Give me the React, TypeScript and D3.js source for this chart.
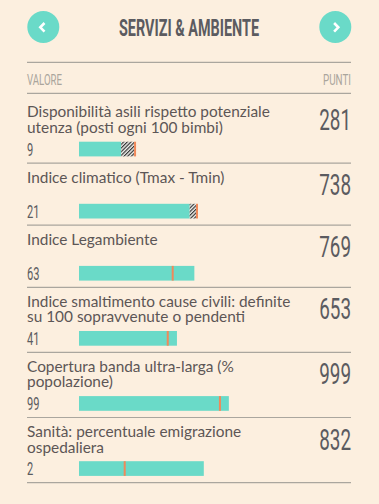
import React from "react";
import * as d3 from "d3";

const title = "SERVIZI & AMBIENTE";
const headerLeft = "VALORE";
const headerRight = "PUNTI";
const labels: string[][] = [
  ["Disponibilità asili rispetto potenziale", "utenza (posti ogni 100 bimbi)"],
  ["Indice climatico (Tmax - Tmin)"],
  ["Indice Legambiente"],
  ["Indice smaltimento cause civili: definite", "su 100 sopravvenute o pendenti"],
  ["Copertura banda ultra-larga (%", "popolazione)"],
  ["Sanità: percentuale emigrazione", "ospedaliera"],
];
const values = ["9", "21", "63", "41", "99", "2"];
const points = [281, 738, 769, 653, 999, 832];
const averages = [367, 780, 618, 585, 933, 298];

const W = 379;
const H = 504;
const BG = "#fcefdf";
const TEAL = "#6adac8";
const ORANGE = "#f0895a";
const DARK = "#5b5b60";
const LABEL = "#5c5656";
const LIGHT = "#aaa59c";
const RULE = "#aaa69e";
const LEFT = 27;
const RIGHT = 351;
const COND = "Roboto, sans-serif";

export default function App() {
  const x = d3.scaleLinear().domain([0, 1000]).range([79, 229]);
  const barH = 14.7;

  const rows: any[] = [];
  let sep = 93;
  labels.forEach((lines, i) => {
    const extra = i === 0 ? 5 : 0;
    const top = sep + extra;
    const barTop = top + (lines.length > 1 ? 43.7 : 40.7);
    const next = barTop + barH + 6.7;
    rows.push({ i, lines, top, barTop, sepBelow: next });
    sep = next;
  });

  const chevron = (cx: number, cy: number, dir: number) =>
    `M${cx + 2.2 * dir},${cy - 4.3} L${cx - 2 * dir},${cy} L${cx + 2.2 * dir},${cy + 4.3}`;

  return (
    <svg
      width={W}
      height={H}
      style={{ position: "absolute", left: 0, top: 0, display: "block" }}
    >
      <defs>
        <pattern id="hatch" width="2.6" height="2.6" patternUnits="userSpaceOnUse" patternTransform="rotate(45)">
          <rect width="2.6" height="2.6" fill="#f4f4f0" />
          <line x1="0.6" y1="0" x2="0.6" y2="2.6" stroke="#333" strokeWidth="1.2" />
        </pattern>
      </defs>
      <rect width={W} height={H} fill={BG} />

      <circle cx={43.3} cy={27} r={16} fill={TEAL} />
      <path d={chevron(42.3, 27.3, 1)} fill="none" stroke="#fff" strokeWidth={2.6} />
      <circle cx={335.3} cy={27} r={16} fill={TEAL} />
      <path d={chevron(336.3, 27.3, -1)} fill="none" stroke="#fff" strokeWidth={2.6} />
      <text
        x={189}
        y={35.7}
        textAnchor="middle"
        fontFamily={COND}
        fontWeight={700}
        fontSize={24}
        fill={DARK}
        textLength={140}
        lengthAdjust="spacingAndGlyphs"
      >
        {title}
      </text>

      <line x1={LEFT} x2={RIGHT} y1={62.3} y2={62.3} stroke={RULE} strokeWidth={1.2} />
      <text x={LEFT} y={85} fontFamily={COND} fontSize={15.5} fill={LIGHT} textLength={35} lengthAdjust="spacingAndGlyphs">
        {headerLeft}
      </text>
      <text x={RIGHT} y={85} textAnchor="end" fontFamily={COND} fontSize={15.5} fill={LIGHT} textLength={28} lengthAdjust="spacingAndGlyphs">
        {headerRight}
      </text>
      <line x1={LEFT} x2={RIGHT} y1={93.3} y2={93.3} stroke={RULE} strokeWidth={1.2} />

      {rows.map((r) => {
        const p = points[r.i];
        const a = averages[r.i];
        const x0 = x(0);
        const xp = x(p);
        const xa = x(a);
        return (
          <g key={r.i}>
            {r.lines.map((ln: string, j: number) => (
              <text
                key={j}
                x={LEFT}
                y={r.top + 19.4 + j * 15.6}
                fontFamily="Lato, sans-serif"
                fontSize={15.4}
                fill={LABEL}
              >
                {ln}
              </text>
            ))}
            <g transform={`translate(${RIGHT},${r.top + 32}) scale(0.64,1)`}>
              <text x={0} y={0} textAnchor="end" fontFamily={COND} fontSize={29.5} fill={DARK}>
                {p}
              </text>
            </g>
            <g transform={`translate(${LEFT},${r.barTop + barH - 0.6}) scale(0.6,1)`}>
              <text x={0} y={0} fontFamily={COND} fontSize={18.5} fill={DARK}>
                {values[r.i]}
              </text>
            </g>
            <rect x={x0} y={r.barTop} width={xp - x0} height={barH} fill={TEAL} />
            {a > p && (
              <rect x={xp} y={r.barTop} width={xa - xp} height={barH} fill="url(#hatch)" />
            )}
            <rect x={xa} y={r.barTop} width={2} height={barH} fill={ORANGE} />
            <line
              x1={LEFT}
              x2={RIGHT}
              y1={r.sepBelow}
              y2={r.sepBelow}
              stroke={RULE}
              strokeWidth={1.2}
            />
          </g>
        );
      })}
    </svg>
  );
}
